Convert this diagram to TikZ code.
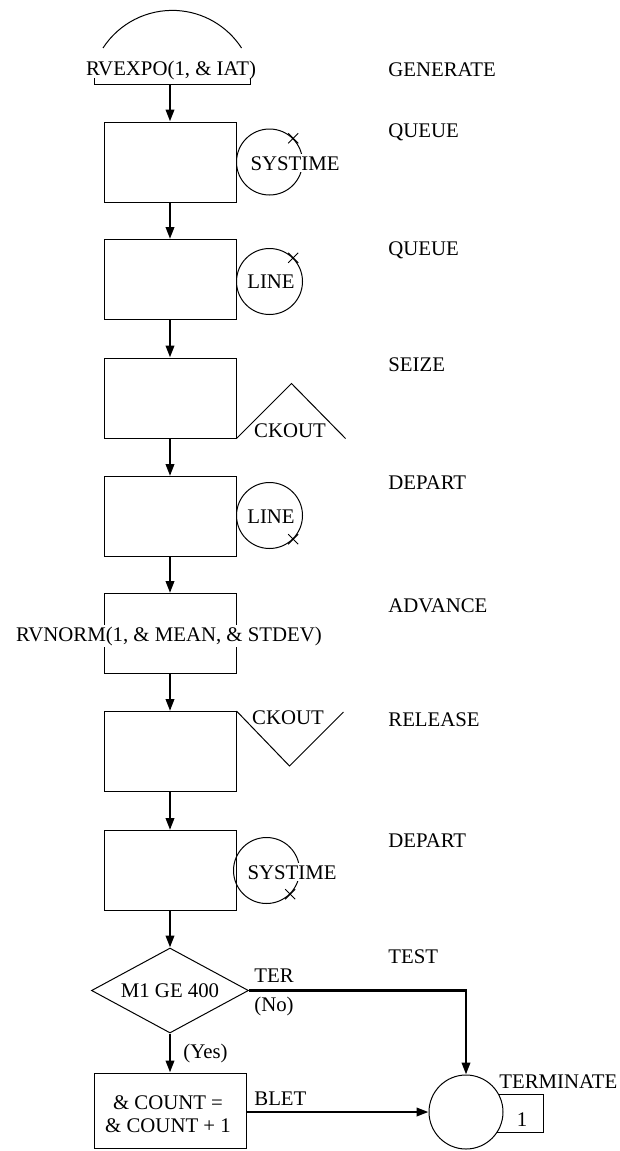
\documentclass[tikz,border=0pt]{standalone}
\usepackage{fontspec}
\setmainfont{Liberation Serif}
\usetikzlibrary{arrows.meta,shapes.geometric,calc}
\newcommand\crossat[1]{\draw[thin] ($(#1)+(-5,-5)$) -- ($(#1)+(5,5)$); \draw[thin] ($(#1)+(-5,5)$) -- ($(#1)+(5,-5)$);}
\begin{document}
\begin{tikzpicture}[x=0.5pt,y=-0.5pt,font=\fontsize{10.4}{12.5}\selectfont,
  thin/.style={line width=0.5pt},
  blk/.style={draw,line width=0.5pt,minimum width=66pt,minimum height=40pt,inner sep=0pt},
  attc/.style={circle,draw,line width=0.5pt,minimum size=33pt,inner sep=0pt},
  flow/.style={line width=1.2pt,-{Triangle[length=6pt,width=4.2pt]}},
  lbl/.style={anchor=base west,inner sep=0pt},
  txt/.style={anchor=base,inner sep=0pt},
  wtxt/.style={anchor=base,inner sep=1pt,fill=white}]
\useasboundingbox (0,0) rectangle (620,1151);

% GENERATE block
\draw[thin] (103,48) arc[start angle=147,end angle=33,radius=41.3pt];
\node[txt] (gen) at (171,75) {RVEXPO(1, \& IAT)};
\draw[thin] (94,78) -- (94,84) -- (250,84) -- (250,78);
\coordinate (gb) at (170,84);

% blocks
\node[blk] (b1) at (170,162) {};
\node[blk] (b2) at (170,279.5) {};
\node[blk] (b3) at (170,398) {};
\node[blk] (b4) at (170,516.5) {};
\node[blk] (b5) at (170,633.5) {};
\node[fill=white,inner sep=1pt,anchor=base] (t5) at (169,641) {RVNORM(1, \& MEAN, \& STDEV)};
\node[blk] (b6) at (170,751.5) {};
\node[blk] (b7) at (170,870.5) {};
\node[diamond,draw,thin,aspect=2,inner sep=0pt,minimum width=78.5pt,minimum height=42.5pt] (d) at (170,990.5) {};
\node[txt] (dt) at (170,997) {M1 GE 400};
\node[draw,thin,minimum width=76pt,minimum height=37.5pt,inner sep=0pt] (b8) at (170,1110.5) {};
\node[txt] (b8a) at (168,1109) {\& COUNT =};
\node[txt] (b8b) at (168,1132) {\& COUNT + 1};

% terminate
\draw[thin] (490,1094) rectangle (543,1132);
\node[circle,draw,thin,fill=white,minimum size=37pt,inner sep=0pt] (term) at (466,1112) {};
\node[txt] (one) at (522,1126) {1};

% attachments
\node[attc] (c1) at ($(b1.east)+(33,0)$) {};
\node[wtxt] (c1t) at (295,170) {SYSTIME};
\crossat{c1.45}
\node[attc] (c2) at ($(b2.east)+(33,2)$) {};
\node[txt] (c2t) at (271,288) {LINE};
\crossat{c2.45}
\draw[thin] (b3.south east) -- ++(55,-55) -- ++(54,55);
\node[txt] (c3t) at (290,437) {CKOUT};
\node[attc] (c4) at ($(b4.east)+(33,-1)$) {};
\node[txt] (c4t) at (271,523) {LINE};
\crossat{c4.-45}
\draw[thin] (b6.north east) -- ++(53,55) -- ++(54,-54);
\node[txt] (c6t) at (288,724) {CKOUT};
\node[attc] (c7) at ($(b7.east)+(30,0)$) {};
\node[wtxt] (c7t) at (292,879) {SYSTIME};
\crossat{c7.-45}

% flow arrows
\draw[flow] (gb) -- (b1.north);
\draw[flow] (b1.south) -- (b2.north);
\draw[flow] (b2.south) -- (b3.north);
\draw[flow] (b3.south) -- (b4.north);
\draw[flow] (b4.south) -- (b5.north);
\draw[flow] (b5.south) -- (b6.north);
\draw[flow] (b6.south) -- (b7.north);
\draw[flow] (b7.south) -- (d.north);
\draw[flow] (d.south) -- (b8.north);
\draw[flow] (d.east) -| (term.north);
\draw[flow] (b8.east |- term.west) -- (term.west);

% labels
\node[lbl] (l1) at (388,76) {GENERATE};
\node[lbl] (l2) at (388,137) {QUEUE};
\node[lbl] (l3) at (388,255) {QUEUE};
\node[lbl] (l4) at (388,371) {SEIZE};
\node[lbl] (l5) at (388,489) {DEPART};
\node[lbl] (l6) at (388,612) {ADVANCE};
\node[lbl] (l7) at (388,726) {RELEASE};
\node[lbl] (l8) at (388,847) {DEPART};
\node[lbl] (l9) at (388,963) {TEST};
\node[lbl] (ter) at (254,982) {TER};
\node[lbl] (no) at (254,1011) {(No)};
\node[lbl] (yes) at (183,1058) {(Yes)};
\node[lbl] (blet) at (254,1105) {BLET};
\node[lbl] (tl) at (499,1088) {TERMINATE};
\end{tikzpicture}
\end{document}
